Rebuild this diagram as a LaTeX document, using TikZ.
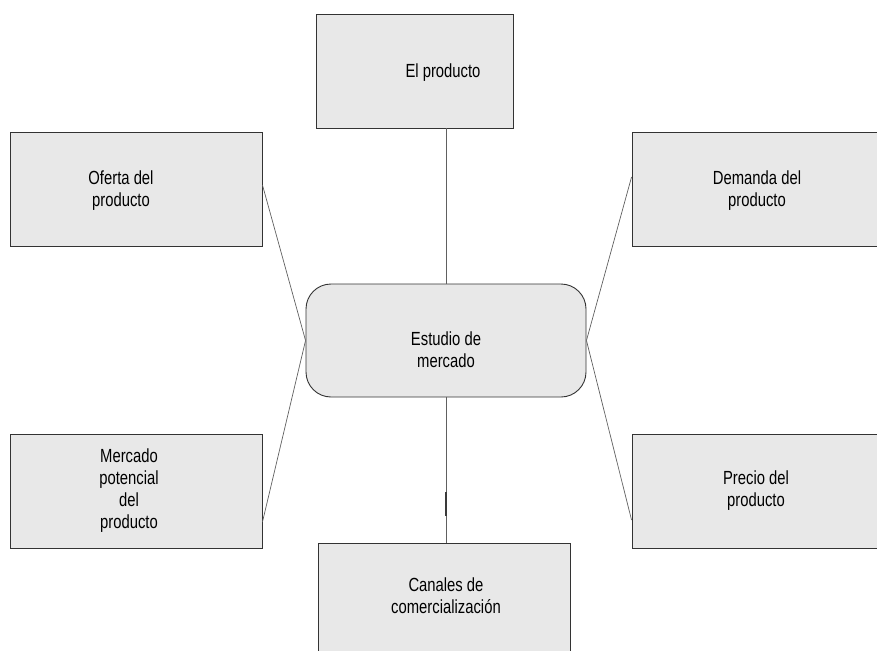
\documentclass[tikz,border=0pt]{standalone}
\usepackage{fontspec}
\setmainfont{Liberation Sans}[FakeStretch=0.78]
\usetikzlibrary{calc}
\definecolor{boxfill}{HTML}{E8E8E8}
\definecolor{boxline}{HTML}{333333}
\definecolor{linkline}{HTML}{606060}
\begin{document}
\begin{tikzpicture}[x=1pt,y=-1pt,
  box/.style={draw=boxline,line width=0.9pt,fill=boxfill,inner sep=0pt,
    minimum width=#1,minimum height=114pt},
  box/.default=252pt,
  core/.style={draw=boxline,line width=0.9pt,fill=boxfill,inner sep=0pt,
    rounded corners=25pt,minimum width=280pt,minimum height=113pt},
  label/.style={align=center,inner sep=0pt,font=\fontsize{19}{22}\selectfont},
  link/.style={draw=linkline,line width=0.7pt}]
\useasboundingbox (0,0) rectangle (877,650);
\clip (0,0) rectangle (877,650);

% boxes
\node[box=197pt] (prod) at (415,71) {};
\node[box] (ofer) at (136,189) {};
\node[box] (dem) at (758,189) {};
\node[core] (est) at (446,340.5) {};
\node[box] (merc) at (136,491) {};
\node[box] (prec) at (758,491) {};
\node[box] (can) at (444,600) {};

% texts
\node[label] (tprod) at (443,73) {El producto};
\node[label] (tofer) at (121,191) {Oferta del\\producto};
\node[label] (tdem) at (757,191) {Demanda del\\producto};
\node[label] (test) at (446,350) {Estudio de\\mercado};
\node[label] (tmerc) at (129,491) {Mercado\\potencial\\del\\producto};
\node[label] (tprec) at (756,491) {Precio del\\producto};
\node[label] (tcan) at (446,596) {Canales de\\comercialización};

% connectors
\draw[link] (prod.south -| est.north) -- (est.north);
\draw[link] (est.south) -- (est.south |- can.north);
\draw[linkline!60!black,line width=1.6pt] ($(est.south)!0.65!(est.south |- can.north)$) -- ($(est.south)!0.82!(est.south |- can.north)$);
\draw[link] ([yshift=4pt]ofer.east) -- (est.west);
\draw[link] ([yshift=-31pt]merc.east) -- (est.west);
\draw[link] ([yshift=12pt]dem.west) -- (est.east);
\draw[link] ([yshift=-29pt]prec.west) -- (est.east);
\end{tikzpicture}
\end{document}
